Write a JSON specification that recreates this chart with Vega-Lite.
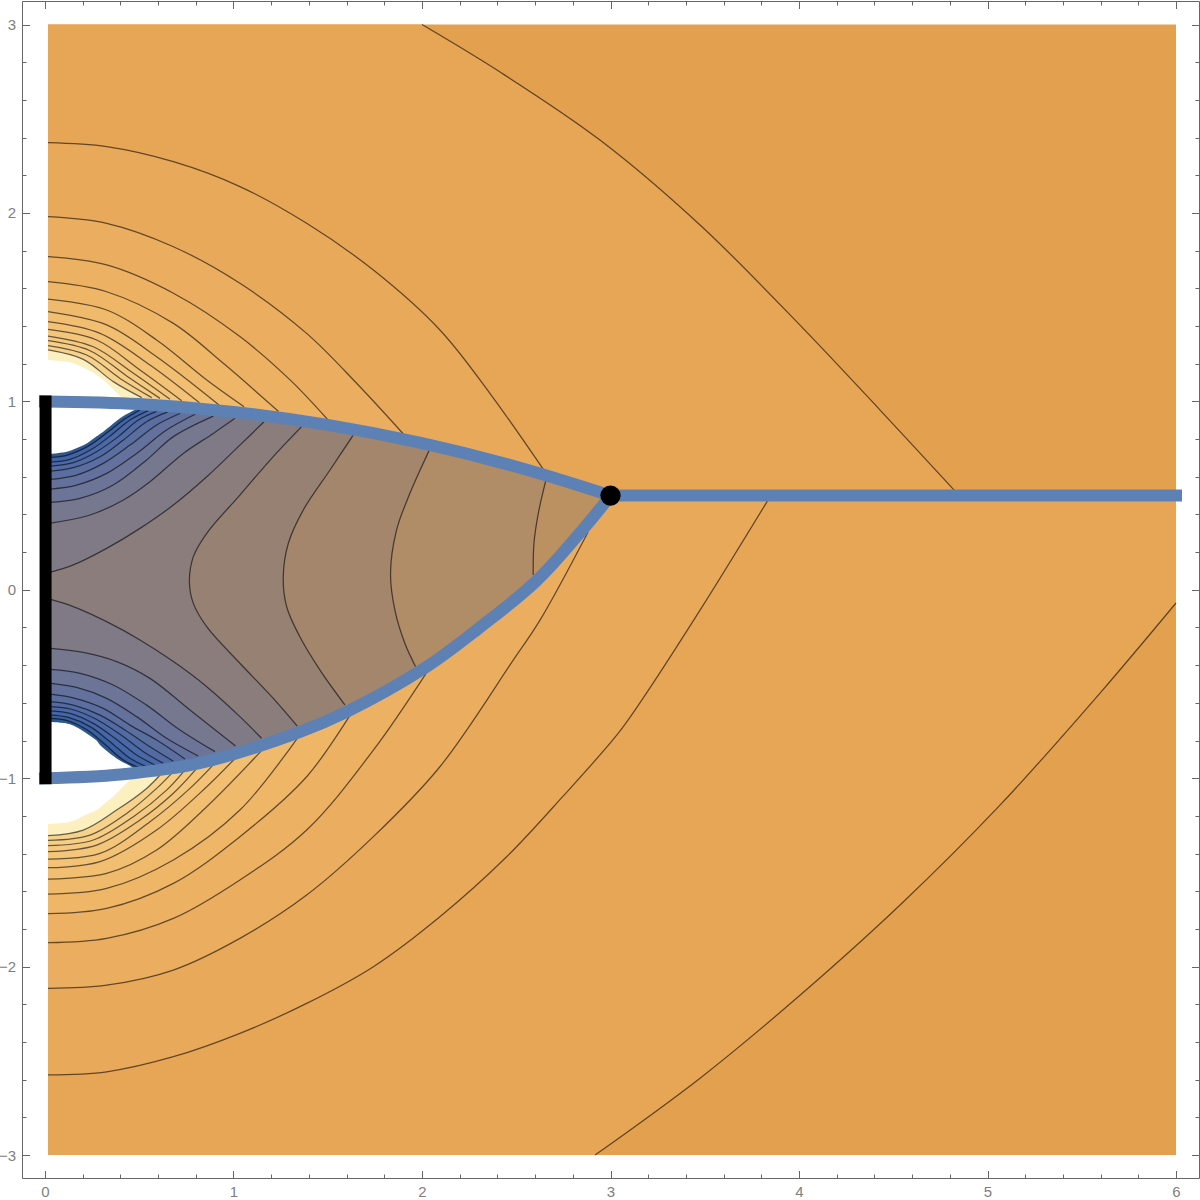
{
"$schema":"https://vega.github.io/schema/vega-lite/v6.json",
"width":1177,"height":1177,
"autosize":{"type":"none"},
"padding":{"left":22,"top":1,"right":1,"bottom":22},
"background":"white",
"config":{"view":{"stroke":null},"axis":{"grid":false,"title":null,"tickColor":"#666666","domainColor":"#666666","tickWidth":1,"domainWidth":1,"labelFont":"Liberation Sans","labelFontSize":15,"labelColor":"#7f7f7f"}},
"datasets":{
"contours":[
{"c":"U13","x":2.0,"y":3},{"c":"U13","x":2.414,"y":2.748},{"c":"U13","x":2.944,"y":2.387},{"c":"U13","x":3.475,"y":1.936},{"c":"U13","x":4.005,"y":1.405},{"c":"U13","x":4.43,"y":0.954},{"c":"U13","x":4.85,"y":0.5},
{"c":"L13","x":2.918,"y":-3},{"c":"L13","x":3.475,"y":-2.592},{"c":"L13","x":4.005,"y":-2.152},{"c":"L13","x":4.536,"y":-1.673},{"c":"L13","x":5.066,"y":-1.143},{"c":"L13","x":5.597,"y":-0.548},{"c":"L13","x":6.0,"y":-0.07},
{"c":"U12","x":0.016,"y":2.373},{"c":"U12","x":0.327,"y":2.352},{"c":"U12","x":0.681,"y":2.272},{"c":"U12","x":1.034,"y":2.14},{"c":"U12","x":1.388,"y":1.945},{"c":"U12","x":1.742,"y":1.697},{"c":"U12","x":2.095,"y":1.379},{"c":"U12","x":2.36,"y":1.043},{"c":"U12","x":2.652,"y":0.627},
{"c":"L12","x":0.016,"y":-2.575},{"c":"L12","x":0.327,"y":-2.558},{"c":"L12","x":0.681,"y":-2.478},{"c":"L12","x":1.034,"y":-2.354},{"c":"L12","x":1.388,"y":-2.195},{"c":"L12","x":1.742,"y":-2.0},{"c":"L12","x":2.095,"y":-1.735},{"c":"L12","x":2.449,"y":-1.417},{"c":"L12","x":2.746,"y":-1.098},{"c":"L12","x":3.034,"y":-0.77},{"c":"L12","x":3.156,"y":-0.6},{"c":"L12","x":3.475,"y":-0.108},{"c":"L12","x":3.85,"y":0.5},
{"c":"U11","x":0.016,"y":1.98},{"c":"U11","x":0.327,"y":1.945},{"c":"U11","x":0.681,"y":1.821},{"c":"U11","x":1.034,"y":1.627},{"c":"U11","x":1.388,"y":1.361},{"c":"U11","x":1.653,"y":1.096},{"c":"U11","x":1.901,"y":0.827},
{"c":"L11","x":0.016,"y":-2.115},{"c":"L11","x":0.327,"y":-2.098},{"c":"L11","x":0.681,"y":-2.018},{"c":"L11","x":1.034,"y":-1.85},{"c":"L11","x":1.388,"y":-1.62},{"c":"L11","x":1.742,"y":-1.31},{"c":"L11","x":2.095,"y":-0.939},{"c":"L11","x":2.484,"y":-0.373},{"c":"L11","x":2.626,"y":-0.161},{"c":"L11","x":2.881,"y":0.307},
{"c":"U10","x":0.016,"y":1.768},{"c":"U10","x":0.327,"y":1.724},{"c":"U10","x":0.681,"y":1.574},{"c":"U10","x":1.034,"y":1.344},{"c":"U10","x":1.3,"y":1.114},{"c":"U10","x":1.498,"y":0.905},
{"c":"L10","x":0.016,"y":-1.873},{"c":"L10","x":0.327,"y":-1.85},{"c":"L10","x":0.681,"y":-1.744},{"c":"L10","x":1.034,"y":-1.54},{"c":"L10","x":1.388,"y":-1.275},{"c":"L10","x":1.742,"y":-0.851},{"c":"L10","x":2.033,"y":-0.426},
{"c":"U9","x":0.016,"y":1.635},{"c":"U9","x":0.327,"y":1.582},{"c":"U9","x":0.681,"y":1.414},{"c":"U9","x":0.946,"y":1.202},{"c":"U9","x":1.239,"y":0.946},
{"c":"L9","x":0.016,"y":-1.719},{"c":"L9","x":0.327,"y":-1.691},{"c":"L9","x":0.681,"y":-1.558},{"c":"L9","x":1.034,"y":-1.31},{"c":"L9","x":1.388,"y":-0.992},{"c":"L9","x":1.618,"y":-0.665},
{"c":"U8","x":0.016,"y":1.543},{"c":"U8","x":0.327,"y":1.485},{"c":"U8","x":0.592,"y":1.326},{"c":"U8","x":0.858,"y":1.114},{"c":"U8","x":1.056,"y":0.972},
{"c":"L8","x":0.016,"y":-1.615},{"c":"L8","x":0.327,"y":-1.585},{"c":"L8","x":0.681,"y":-1.434},{"c":"L8","x":1.034,"y":-1.169},{"c":"L8","x":1.344,"y":-0.78},
{"c":"U7","x":0.016,"y":1.476},{"c":"U7","x":0.327,"y":1.406},{"c":"U7","x":0.592,"y":1.237},{"c":"U7","x":0.923,"y":0.981},
{"c":"L7","x":0.016,"y":-1.535},{"c":"L7","x":0.327,"y":-1.505},{"c":"L7","x":0.592,"y":-1.381},{"c":"L7","x":0.858,"y":-1.151},{"c":"L7","x":1.155,"y":-0.847},
{"c":"U6","x":0.016,"y":1.423},{"c":"U6","x":0.292,"y":1.361},{"c":"U6","x":0.557,"y":1.193},{"c":"U6","x":0.819,"y":0.993},
{"c":"L6","x":0.016,"y":-1.475},{"c":"L6","x":0.292,"y":-1.443},{"c":"L6","x":0.592,"y":-1.275},{"c":"L6","x":0.858,"y":-1.045},{"c":"L6","x":1.008,"y":-0.895},
{"c":"U5","x":0.016,"y":1.382},{"c":"U5","x":0.274,"y":1.326},{"c":"U5","x":0.504,"y":1.167},{"c":"U5","x":0.725,"y":1.004},
{"c":"L5","x":0.016,"y":-1.429},{"c":"L5","x":0.292,"y":-1.399},{"c":"L5","x":0.557,"y":-1.231},{"c":"L5","x":0.769,"y":-1.054},{"c":"L5","x":0.896,"y":-0.925},
{"c":"U4","x":0.016,"y":1.347},{"c":"U4","x":0.256,"y":1.29},{"c":"U4","x":0.469,"y":1.149},{"c":"U4","x":0.663,"y":1.011},
{"c":"L4","x":0.016,"y":-1.39},{"c":"L4","x":0.274,"y":-1.355},{"c":"L4","x":0.504,"y":-1.222},{"c":"L4","x":0.681,"y":-1.08},{"c":"L4","x":0.805,"y":-0.948},
{"c":"U3","x":0.016,"y":1.322},{"c":"U3","x":0.239,"y":1.269},{"c":"U3","x":0.433,"y":1.135},{"c":"U3","x":0.61,"y":1.016},
{"c":"L3","x":0.016,"y":-1.358},{"c":"L3","x":0.256,"y":-1.328},{"c":"L3","x":0.469,"y":-1.204},{"c":"L3","x":0.645,"y":-1.063},{"c":"L3","x":0.734,"y":-0.966},
{"c":"U2","x":0.016,"y":1.296},{"c":"U2","x":0.221,"y":1.246},{"c":"U2","x":0.398,"y":1.122},{"c":"U2","x":0.566,"y":1.02},
{"c":"L2","x":0.016,"y":-1.33},{"c":"L2","x":0.239,"y":-1.302},{"c":"L2","x":0.433,"y":-1.187},{"c":"L2","x":0.592,"y":-1.054},{"c":"L2","x":0.672,"y":-0.974},
{"c":"U1","x":0.016,"y":1.273},{"c":"U1","x":0.203,"y":1.223},{"c":"U1","x":0.362,"y":1.105},{"c":"U1","x":0.513,"y":1.02},
{"c":"L1","x":0.016,"y":-1.305},{"c":"L1","x":0.203,"y":-1.275},{"c":"L1","x":0.38,"y":-1.169},{"c":"L1","x":0.539,"y":-1.054},{"c":"L1","x":0.61,"y":-0.983}
],
"saddles":[
{"c":"S5","x":0.016,"y":-1,"edge":1},{"c":"S5","x":0.4,"y":-0.98,"edge":1},{"c":"S5","x":0.82,"y":-0.92,"edge":1},{"c":"S5","x":1.353,"y":-0.754,"edge":1},{"c":"S5","x":1.6,"y":-0.648,"edge":1},{"c":"S5","x":2.016,"y":-0.414,"edge":1},{"c":"S5","x":2.3,"y":-0.205,"edge":1},{"c":"S5","x":2.61,"y":0.05,"edge":1},{"c":"S5","x":2.865,"y":0.334,"edge":1},{"c":"S5","x":3,"y":0.5,"edge":1},{"c":"S5","x":2.846,"y":0.55,"edge":1},{"c":"S5","x":2.683,"y":0.6,"edge":1},{"c":"S5","x":2.51,"y":0.65,"edge":1},{"c":"S5","x":2.324,"y":0.7,"edge":1},{"c":"S5","x":2.121,"y":0.75,"edge":1},{"c":"S5","x":1.897,"y":0.8,"edge":1},{"c":"S5","x":1.643,"y":0.85,"edge":1},{"c":"S5","x":1.342,"y":0.9,"edge":1},{"c":"S5","x":0.949,"y":0.95,"edge":1},{"c":"S5","x":0.735,"y":0.97,"edge":1},{"c":"S5","x":0.424,"y":0.99,"edge":1},{"c":"S5","x":0.016,"y":1,"edge":1},
{"c":"S4","x":0.016,"y":-1,"edge":1},{"c":"S4","x":0.4,"y":-0.98,"edge":1},{"c":"S4","x":0.82,"y":-0.92,"edge":1},{"c":"S4","x":1.353,"y":-0.754,"edge":1},{"c":"S4","x":1.6,"y":-0.648,"edge":1},{"c":"S4","x":2.016,"y":-0.414,"edge":1},{"c":"S4","x":2.3,"y":-0.205,"edge":1},{"c":"S4","x":2.59,"y":0.03,"edge":1},{"c":"S4","x":2.59,"y":0.078},{"c":"S4","x":2.594,"y":0.247},{"c":"S4","x":2.617,"y":0.406},{"c":"S4","x":2.656,"y":0.577},{"c":"S4","x":2.65,"y":0.61,"edge":1},{"c":"S4","x":2.51,"y":0.65,"edge":1},{"c":"S4","x":2.324,"y":0.7,"edge":1},{"c":"S4","x":2.121,"y":0.75,"edge":1},{"c":"S4","x":1.897,"y":0.8,"edge":1},{"c":"S4","x":1.643,"y":0.85,"edge":1},{"c":"S4","x":1.342,"y":0.9,"edge":1},{"c":"S4","x":0.949,"y":0.95,"edge":1},{"c":"S4","x":0.735,"y":0.97,"edge":1},{"c":"S4","x":0.424,"y":0.99,"edge":1},{"c":"S4","x":0.016,"y":1,"edge":1},
{"c":"S3","x":0.016,"y":-1,"edge":1},{"c":"S3","x":0.4,"y":-0.98,"edge":1},{"c":"S3","x":0.82,"y":-0.92,"edge":1},{"c":"S3","x":1.353,"y":-0.754,"edge":1},{"c":"S3","x":1.6,"y":-0.648,"edge":1},{"c":"S3","x":1.966,"y":-0.44,"edge":1},{"c":"S3","x":1.966,"y":-0.408},{"c":"S3","x":1.909,"y":-0.284},{"c":"S3","x":1.856,"y":-0.107},{"c":"S3","x":1.833,"y":0.087},{"c":"S3","x":1.865,"y":0.317},{"c":"S3","x":1.936,"y":0.512},{"c":"S3","x":2.039,"y":0.742},{"c":"S3","x":2.03,"y":0.77,"edge":1},{"c":"S3","x":1.897,"y":0.8,"edge":1},{"c":"S3","x":1.643,"y":0.85,"edge":1},{"c":"S3","x":1.342,"y":0.9,"edge":1},{"c":"S3","x":0.949,"y":0.95,"edge":1},{"c":"S3","x":0.735,"y":0.97,"edge":1},{"c":"S3","x":0.424,"y":0.99,"edge":1},{"c":"S3","x":0.016,"y":1,"edge":1},
{"c":"S2","x":0.016,"y":-1,"edge":1},{"c":"S2","x":0.4,"y":-0.98,"edge":1},{"c":"S2","x":0.82,"y":-0.92,"edge":1},{"c":"S2","x":1.34,"y":-0.76,"edge":1},{"c":"S2","x":1.591,"y":-0.65,"edge":1},{"c":"S2","x":1.591,"y":-0.611},{"c":"S2","x":1.459,"y":-0.426},{"c":"S2","x":1.352,"y":-0.249},{"c":"S2","x":1.282,"y":-0.09},{"c":"S2","x":1.264,"y":0.07},{"c":"S2","x":1.291,"y":0.247},{"c":"S2","x":1.37,"y":0.423},{"c":"S2","x":1.512,"y":0.636},{"c":"S2","x":1.635,"y":0.821},{"c":"S2","x":1.62,"y":0.855,"edge":1},{"c":"S2","x":1.342,"y":0.9,"edge":1},{"c":"S2","x":0.949,"y":0.95,"edge":1},{"c":"S2","x":0.735,"y":0.97,"edge":1},{"c":"S2","x":0.424,"y":0.99,"edge":1},{"c":"S2","x":0.016,"y":1,"edge":1},
{"c":"S1","x":0.016,"y":-1,"edge":1},{"c":"S1","x":0.4,"y":-0.98,"edge":1},{"c":"S1","x":0.82,"y":-0.92,"edge":1},{"c":"S1","x":1.338,"y":-0.76,"edge":1},{"c":"S1","x":1.338,"y":-0.723},{"c":"S1","x":1.211,"y":-0.576},{"c":"S1","x":1.034,"y":-0.39},{"c":"S1","x":0.858,"y":-0.196},{"c":"S1","x":0.787,"y":-0.072},{"c":"S1","x":0.766,"y":0.043},{"c":"S1","x":0.787,"y":0.176},{"c":"S1","x":0.858,"y":0.3},{"c":"S1","x":1.034,"y":0.503},{"c":"S1","x":1.211,"y":0.707},{"c":"S1","x":1.361,"y":0.866},{"c":"S1","x":1.34,"y":0.9,"edge":1},{"c":"S1","x":0.949,"y":0.95,"edge":1},{"c":"S1","x":0.735,"y":0.97,"edge":1},{"c":"S1","x":0.424,"y":0.99,"edge":1},{"c":"S1","x":0.016,"y":1,"edge":1}
],
"caps":[
{"c":"A9","x":0.03,"y":0.094,"y2":1},{"c":"A9","x":0.15,"y":0.132,"y2":0.999},{"c":"A9","x":0.327,"y":0.22,"y2":0.994},{"c":"A9","x":0.504,"y":0.326,"y2":0.986},{"c":"A9","x":0.681,"y":0.45,"y2":0.974},{"c":"A9","x":0.858,"y":0.6,"y2":0.959},{"c":"A9","x":1.034,"y":0.768,"y2":0.941},{"c":"A9","x":1.162,"y":0.892,"y2":0.925},
{"c":"B10","x":0.03,"y":-0.051,"y2":-1},{"c":"B10","x":0.15,"y":-0.089,"y2":-0.997},{"c":"B10","x":0.327,"y":-0.169,"y2":-0.986},{"c":"B10","x":0.504,"y":-0.266,"y2":-0.966},{"c":"B10","x":0.681,"y":-0.381,"y2":-0.938},{"c":"B10","x":0.858,"y":-0.514,"y2":-0.901},{"c":"B10","x":1.034,"y":-0.673,"y2":-0.857},{"c":"B10","x":1.149,"y":-0.788,"y2":-0.823},
{"c":"A8","x":0.03,"y":0.354,"y2":1},{"c":"A8","x":0.239,"y":0.397,"y2":0.997},{"c":"A8","x":0.416,"y":0.477,"y2":0.99},{"c":"A8","x":0.557,"y":0.574,"y2":0.983},{"c":"A8","x":0.734,"y":0.724,"y2":0.97},{"c":"A8","x":0.893,"y":0.83,"y2":0.956},{"c":"A8","x":1.008,"y":0.91,"y2":0.944},
{"c":"B9","x":0.03,"y":-0.311,"y2":-1},{"c":"B9","x":0.203,"y":-0.332,"y2":-0.994},{"c":"B9","x":0.38,"y":-0.381,"y2":-0.981},{"c":"B9","x":0.557,"y":-0.47,"y2":-0.958},{"c":"B9","x":0.769,"y":-0.638,"y2":-0.921},{"c":"B9","x":1.011,"y":-0.829,"y2":-0.863},
{"c":"A7","x":0.03,"y":0.464,"y2":1},{"c":"A7","x":0.186,"y":0.485,"y2":0.998},{"c":"A7","x":0.362,"y":0.556,"y2":0.993},{"c":"A7","x":0.539,"y":0.689,"y2":0.984},{"c":"A7","x":0.681,"y":0.813,"y2":0.974},{"c":"A7","x":0.893,"y":0.922,"y2":0.956},
{"c":"B8","x":0.03,"y":-0.422,"y2":-1},{"c":"B8","x":0.186,"y":-0.443,"y2":-0.995},{"c":"B8","x":0.362,"y":-0.505,"y2":-0.982},{"c":"B8","x":0.539,"y":-0.612,"y2":-0.961},{"c":"B8","x":0.716,"y":-0.744,"y2":-0.931},{"c":"B8","x":0.902,"y":-0.859,"y2":-0.891},
{"c":"A6","x":0.03,"y":0.535,"y2":1},{"c":"A6","x":0.168,"y":0.556,"y2":0.998},{"c":"A6","x":0.327,"y":0.618,"y2":0.994},{"c":"A6","x":0.486,"y":0.724,"y2":0.987},{"c":"A6","x":0.645,"y":0.848,"y2":0.977},{"c":"A6","x":0.799,"y":0.933,"y2":0.965},
{"c":"B7","x":0.03,"y":-0.496,"y2":-1},{"c":"B7","x":0.168,"y":-0.518,"y2":-0.996},{"c":"B7","x":0.327,"y":-0.576,"y2":-0.986},{"c":"B7","x":0.486,"y":-0.673,"y2":-0.968},{"c":"B7","x":0.645,"y":-0.788,"y2":-0.944},{"c":"B7","x":0.813,"y":-0.882,"y2":-0.911},
{"c":"A5","x":0.03,"y":0.586,"y2":1},{"c":"A5","x":0.168,"y":0.609,"y2":0.998},{"c":"A5","x":0.309,"y":0.671,"y2":0.995},{"c":"A5","x":0.451,"y":0.768,"y2":0.989},{"c":"A5","x":0.592,"y":0.875,"y2":0.981},{"c":"A5","x":0.716,"y":0.936,"y2":0.972},
{"c":"B6","x":0.03,"y":-0.553,"y2":-1},{"c":"B6","x":0.15,"y":-0.573,"y2":-0.997},{"c":"B6","x":0.309,"y":-0.629,"y2":-0.987},{"c":"B6","x":0.451,"y":-0.718,"y2":-0.973},{"c":"B6","x":0.592,"y":-0.797,"y2":-0.953},{"c":"B6","x":0.743,"y":-0.898,"y2":-0.926},
{"c":"A4","x":0.03,"y":0.63,"y2":1},{"c":"A4","x":0.15,"y":0.648,"y2":0.999},{"c":"A4","x":0.292,"y":0.706,"y2":0.995},{"c":"A4","x":0.416,"y":0.795,"y2":0.99},{"c":"A4","x":0.539,"y":0.892,"y2":0.984},{"c":"A4","x":0.651,"y":0.944,"y2":0.976},
{"c":"B5","x":0.03,"y":-0.594,"y2":-1},{"c":"B5","x":0.15,"y":-0.612,"y2":-0.997},{"c":"B5","x":0.292,"y":-0.665,"y2":-0.989},{"c":"B5","x":0.424,"y":-0.744,"y2":-0.976},{"c":"B5","x":0.557,"y":-0.833,"y2":-0.958},{"c":"B5","x":0.681,"y":-0.91,"y2":-0.938},
{"c":"A3","x":0.03,"y":0.657,"y2":1},{"c":"A3","x":0.15,"y":0.675,"y2":0.999},{"c":"A3","x":0.274,"y":0.733,"y2":0.996},{"c":"A3","x":0.389,"y":0.813,"y2":0.992},{"c":"A3","x":0.495,"y":0.901,"y2":0.986},{"c":"A3","x":0.592,"y":0.947,"y2":0.981},
{"c":"B4","x":0.03,"y":-0.62,"y2":-1},{"c":"B4","x":0.141,"y":-0.634,"y2":-0.997},{"c":"B4","x":0.274,"y":-0.688,"y2":-0.99},{"c":"B4","x":0.398,"y":-0.767,"y2":-0.979},{"c":"B4","x":0.522,"y":-0.859,"y2":-0.963},{"c":"B4","x":0.628,"y":-0.921,"y2":-0.947},
{"c":"A2","x":0.03,"y":0.678,"y2":1},{"c":"A2","x":0.133,"y":0.692,"y2":0.999},{"c":"A2","x":0.256,"y":0.751,"y2":0.996},{"c":"A2","x":0.362,"y":0.83,"y2":0.993},{"c":"A2","x":0.451,"y":0.901,"y2":0.989},{"c":"A2","x":0.548,"y":0.951,"y2":0.983},
{"c":"B3","x":0.03,"y":-0.642,"y2":-1},{"c":"B3","x":0.133,"y":-0.656,"y2":-0.998},{"c":"B3","x":0.256,"y":-0.709,"y2":-0.991},{"c":"B3","x":0.371,"y":-0.788,"y2":-0.982},{"c":"B3","x":0.486,"y":-0.877,"y2":-0.968},{"c":"B3","x":0.584,"y":-0.93,"y2":-0.954},
{"c":"A1","x":0.03,"y":0.703,"y2":1},{"c":"A1","x":0.115,"y":0.714,"y2":0.999},{"c":"A1","x":0.239,"y":0.768,"y2":0.997},{"c":"A1","x":0.336,"y":0.839,"y2":0.994},{"c":"A1","x":0.416,"y":0.901,"y2":0.99},{"c":"A1","x":0.504,"y":0.954,"y2":0.986},
{"c":"B2","x":0.03,"y":-0.665,"y2":-1},{"c":"B2","x":0.124,"y":-0.677,"y2":-0.998},{"c":"B2","x":0.239,"y":-0.726,"y2":-0.992},{"c":"B2","x":0.345,"y":-0.806,"y2":-0.984},{"c":"B2","x":0.451,"y":-0.894,"y2":-0.973},{"c":"B2","x":0.539,"y":-0.939,"y2":-0.961},
{"c":"B1","x":0.03,"y":-0.682,"y2":-1},{"c":"B1","x":0.115,"y":-0.693,"y2":-0.998},{"c":"B1","x":0.221,"y":-0.741,"y2":-0.993},{"c":"B1","x":0.318,"y":-0.82,"y2":-0.986},{"c":"B1","x":0.416,"y":-0.903,"y2":-0.977},{"c":"B1","x":0.504,"y":-0.946,"y2":-0.966}
],
"holes":[
{"h":"upper","x":0.016,"y":0.72,"y2":1.22},{"h":"upper","x":0.115,"y":0.733,"y2":1.21},{"h":"upper","x":0.15,"y":0.745,"y2":1.202},{"h":"upper","x":0.221,"y":0.777,"y2":1.17},{"h":"upper","x":0.274,"y":0.815,"y2":1.14},{"h":"upper","x":0.309,"y":0.839,"y2":1.115},{"h":"upper","x":0.398,"y":0.91,"y2":1.03},{"h":"upper","x":0.42,"y":0.925,"y2":1.01},{"h":"upper","x":0.486,"y":0.96,"y2":0.98},
{"h":"lower","x":0.016,"y":-0.7,"y2":-1.243},{"h":"lower","x":0.115,"y":-0.709,"y2":-1.235},{"h":"lower","x":0.15,"y":-0.72,"y2":-1.226},{"h":"lower","x":0.203,"y":-0.75,"y2":-1.2},{"h":"lower","x":0.274,"y":-0.8,"y2":-1.169},{"h":"lower","x":0.292,"y":-0.824,"y2":-1.155},{"h":"lower","x":0.38,"y":-0.895,"y2":-1.08},{"h":"lower","x":0.46,"y":-0.94,"y2":-1.0},{"h":"lower","x":0.49,"y":-0.96,"y2":-0.985}
],
"branches":[
{"b":"top","x":0,"y":1},{"b":"top","x":0.5,"y":0.986},{"b":"top","x":1,"y":0.944},{"b":"top","x":1.5,"y":0.875},{"b":"top","x":2,"y":0.778},{"b":"top","x":2.5,"y":0.653},{"b":"top","x":3,"y":0.5},
{"b":"bottom","x":0,"y":-1},{"b":"bottom","x":0.4,"y":-0.98},{"b":"bottom","x":0.82,"y":-0.92},{"b":"bottom","x":1.353,"y":-0.754},{"b":"bottom","x":1.6,"y":-0.648},{"b":"bottom","x":2.016,"y":-0.414},{"b":"bottom","x":2.3,"y":-0.205},{"b":"bottom","x":2.61,"y":0.05},{"b":"bottom","x":2.865,"y":0.334},{"b":"bottom","x":3,"y":0.5},
{"b":"cut","x":3,"y":0.5},{"b":"cut","x":6,"y":0.5}
]
},
"layer":[
{"data":{"values":[{"c":"base","x":0.016,"x2":6,"y":-3,"y2":3},{"c":"U13","x":0.016,"x2":2.0,"y":0.5,"y2":3},{"c":"L13","x":0.016,"x2":2.918,"y":-3,"y2":0.5}]},
 "mark":{"type":"rect"},
 "encoding":{
  "x":{"field":"x","type":"quantitative","scale":{"domain":[-0.122,6.122],"nice":false,"zero":false},"axis":{"orient":"bottom","values":[0,1,2,3,4,5,6],"tickSize":-7.5,"labelPadding":14,"labelFlush":false,"labelOverlap":false}},
  "x2":{"field":"x2"},
  "y":{"field":"y","type":"quantitative","scale":{"domain":[-3.1217,3.125],"nice":false,"zero":false},"axis":{"orient":"left","values":[-3,-2,-1,0,1,2,3],"tickSize":-7.5,"labelPadding":14,"labelFlush":false,"labelOverlap":false}},
  "y2":{"field":"y2"},
  "color":{"field":"c","type":"nominal","legend":null,"scale":{
   "domain":["base","U13","L13","U12","L12","U11","L11","U10","L10","U9","L9","U8","L8","U7","L7","U6","L6","U5","L5","U4","L4","U3","L3","U2","L2","U1","L1","S5","S4","S3","S2","S1","A9","B10","A8","B9","A7","B8","A6","B7","A5","B6","A4","B5","A3","B4","A2","B3","A1","B2","B1"],
   "range":["#E3A04E","#E7A656","#E7A656","#E9A95A","#E9A95A","#EBAD5F","#EBAD5F","#EDB163","#EDB163","#EFB667","#EFB667","#F0BA6C","#F0BA6C","#F2BE71","#F2BE71","#F3C276","#F3C276","#F4C67B","#F4C67B","#F5CA80","#F5CA80","#F6CE86","#F6CE86","#F7D28C","#F7D28C","#FDF0C0","#FDF0C0","#BC9161","#B08C67","#A4866C","#968172","#8A7D7C","#807A86","#807A86","#76788F","#76788F","#6C7597","#6C7597","#63719C","#63719C","#5B6EA0","#5B6EA0","#536BA4","#536BA4","#4C69A7","#4C69A7","#4064A6","#4567A8","#2E568F","#3C61A2","#2E568F"]}}
 }},
{"data":{"name":"contours"},
 "mark":{"type":"area","interpolate":"catmull-rom"},
 "encoding":{
  "x":{"field":"x","type":"quantitative","axis":{"orient":"top","values":[0,1,2,3,4,5,6],"tickSize":-7.5,"labels":false}},
  "y":{"field":"y","type":"quantitative","stack":null,"axis":{"orient":"right","values":[-3,-2,-1,0,1,2,3],"tickSize":-7.5,"labels":false}},
  "y2":{"datum":0.5},
  "color":{"field":"c","type":"nominal","legend":null}
 }},
{"data":{"name":"saddles"},
 "mark":{"type":"area","interpolate":"catmull-rom","orient":"horizontal"},
 "encoding":{
  "y":{"field":"y","type":"quantitative","axis":{"orient":"left","domain":false,"labels":false,"tickSize":-4,"values":[-2.8,-2.6,-2.4,-2.2,-1.8,-1.6,-1.4,-1.2,-0.8,-0.6,-0.4,-0.2,0.2,0.4,0.6,0.8,1.2,1.4,1.6,1.8,2.2,2.4,2.6,2.8]}},
  "x":{"field":"x","type":"quantitative","stack":null,"axis":{"orient":"bottom","domain":false,"labels":false,"tickSize":-4,"values":[0.2,0.4,0.6,0.8,1.2,1.4,1.6,1.8,2.2,2.4,2.6,2.8,3.2,3.4,3.6,3.8,4.2,4.4,4.6,4.8,5.2,5.4,5.6,5.8]}},
  "x2":{"datum":0.016},
  "color":{"field":"c","type":"nominal","legend":null}
 }},
{"data":{"name":"caps"},
 "mark":{"type":"area","interpolate":"catmull-rom"},
 "encoding":{
  "x":{"field":"x","type":"quantitative","axis":{"orient":"top","domain":false,"labels":false,"tickSize":-4,"values":[0.2,0.4,0.6,0.8,1.2,1.4,1.6,1.8,2.2,2.4,2.6,2.8,3.2,3.4,3.6,3.8,4.2,4.4,4.6,4.8,5.2,5.4,5.6,5.8]}},
  "y":{"field":"y","type":"quantitative","stack":null,"axis":{"orient":"right","domain":false,"labels":false,"tickSize":-4,"values":[-2.8,-2.6,-2.4,-2.2,-1.8,-1.6,-1.4,-1.2,-0.8,-0.6,-0.4,-0.2,0.2,0.4,0.6,0.8,1.2,1.4,1.6,1.8,2.2,2.4,2.6,2.8]}},
  "y2":{"field":"y2"},
  "color":{"field":"c","type":"nominal","legend":null}
 }},
{"data":{"name":"holes"},
 "mark":{"type":"area","interpolate":"catmull-rom","color":"white"},
 "encoding":{
  "x":{"field":"x","type":"quantitative","axis":null},
  "y":{"field":"y","type":"quantitative","stack":null,"axis":null},
  "y2":{"field":"y2"},
  "detail":{"field":"h"}
 }},
{"data":{"name":"contours"},
 "mark":{"type":"line","interpolate":"catmull-rom","stroke":"#000000","strokeOpacity":0.58,"strokeWidth":1.25},
 "encoding":{
  "x":{"field":"x","type":"quantitative","axis":null},
  "y":{"field":"y","type":"quantitative","axis":null},
  "detail":{"field":"c"}
 }},
{"data":{"name":"caps"},
 "mark":{"type":"line","interpolate":"catmull-rom","stroke":"#000000","strokeOpacity":0.58,"strokeWidth":1.25},
 "encoding":{
  "x":{"field":"x","type":"quantitative","axis":null},
  "y":{"field":"y","type":"quantitative","axis":null},
  "detail":{"field":"c"}
 }},
{"data":{"name":"saddles"},
 "transform":[{"filter":"!datum.edge"}],
 "mark":{"type":"line","interpolate":"catmull-rom","stroke":"#000000","strokeOpacity":0.58,"strokeWidth":1.25},
 "encoding":{
  "x":{"field":"x","type":"quantitative","axis":null},
  "y":{"field":"y","type":"quantitative","axis":null},
  "order":{"field":"y","type":"quantitative"},
  "detail":{"field":"c"}
 }},
{"data":{"name":"branches"},
 "mark":{"type":"line","interpolate":"catmull-rom","stroke":"#5E81B5","strokeWidth":12,"strokeCap":"square"},
 "encoding":{
  "x":{"field":"x","type":"quantitative","axis":null},
  "y":{"field":"y","type":"quantitative","axis":null},
  "detail":{"field":"b"}
 }},
{"data":{"values":[{"x":0.003,"y":-1,"y2":1}]},
 "mark":{"type":"rule","stroke":"#000000","strokeWidth":12,"strokeCap":"square"},
 "encoding":{
  "x":{"field":"x","type":"quantitative","axis":null},
  "y":{"field":"y","type":"quantitative","axis":null},
  "y2":{"field":"y2"}
 }},
{"data":{"values":[{"x":3,"y":0.5}]},
 "mark":{"type":"point","filled":true,"fill":"#000000","opacity":1,"size":415,"shape":"circle"},
 "encoding":{
  "x":{"field":"x","type":"quantitative","axis":null},
  "y":{"field":"y","type":"quantitative","axis":null}
 }}
],
"resolve":{"axis":{"x":"independent","y":"independent"}}
}
